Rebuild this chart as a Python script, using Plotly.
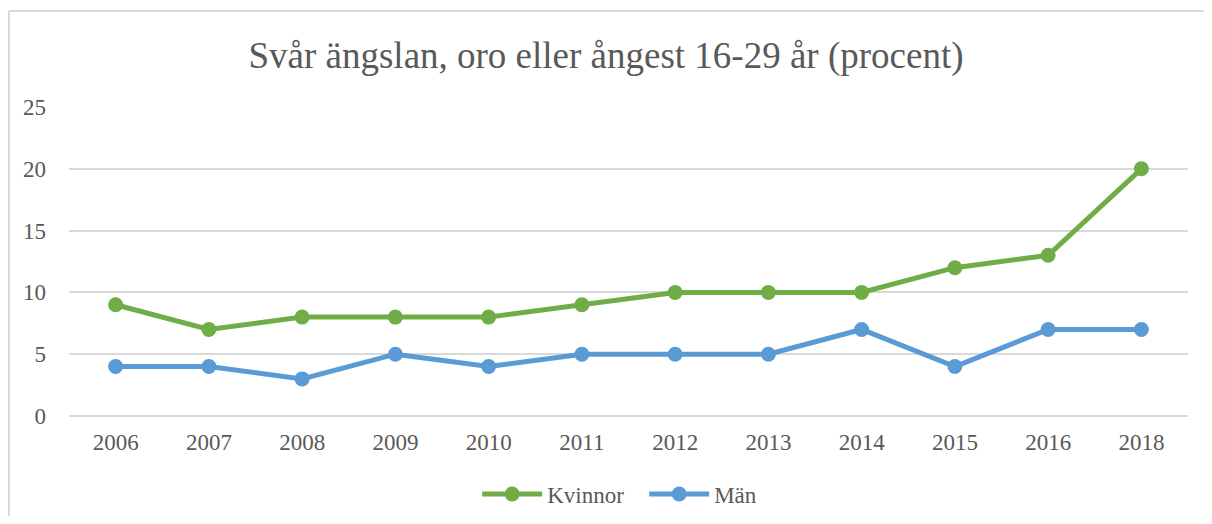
import plotly.graph_objects as go

years = ["2006", "2007", "2008", "2009", "2010", "2011", "2012", "2013", "2014", "2015", "2016", "2018"]
kvinnor = [9, 7, 8, 8, 8, 9, 10, 10, 10, 12, 13, 20]
man = [4, 4, 3, 5, 4, 5, 5, 5, 7, 4, 7, 7]

FONT = "Liberation Serif, Times New Roman, serif"
GREY = "#595959"
BORDER = "#D9D9D9"

fig = go.Figure()
for name, vals, col in [("Kvinnor", kvinnor, "#70AD47"), ("Män", man, "#5B9BD5")]:
    fig.add_trace(go.Scatter(
        x=years, y=vals, name=name, mode="lines+markers",
        line=dict(color=col, width=5),
        marker=dict(color=col, size=15),
    ))

# page body has an 8px margin, so the figure is shrunk to fit the window exactly
fig.update_layout(
    width=1196, height=508,
    margin=dict(l=61, r=16, t=99, b=100, autoexpand=False),
    paper_bgcolor="white", plot_bgcolor="white",
    font=dict(family=FONT, size=23, color=GREY),
    title=dict(text="Svår ängslan, oro eller ångest 16-29 år (procent)",
               x=0.5, xanchor="center", y=0.9075, yanchor="middle",
               font=dict(family=FONT, size=37, color=GREY)),
    legend=dict(orientation="h", x=0.514, xanchor="center",
                yref="container", y=0.0433, yanchor="middle",
                font=dict(size=23, color=GREY), itemwidth=60,
                entrywidth=92, entrywidthmode="pixels"),
    showlegend=True,
)
fig.update_xaxes(type="category", range=[-0.5, 11.5], showgrid=False, showline=False,
                 ticks="", ticklabelstandoff=10, automargin=False,
                 tickfont=dict(size=23, color=GREY))
fig.update_yaxes(range=[0, 25], dtick=5, showgrid=True, gridcolor=BORDER, gridwidth=1.5,
                 zeroline=True, zerolinecolor=BORDER, zerolinewidth=1.5, automargin=False,
                 ticks="", ticklabelstandoff=22, tickfont=dict(size=23, color=GREY))

# chart-area border: only the left and top edges fall inside the window
fig.add_shape(type="line", xref="paper", yref="paper",
              x0=-0.0536, x1=-0.0536, y0=-0.4, y1=1.311,
              line=dict(color=BORDER, width=2), layer="below")
fig.add_shape(type="line", xref="paper", yref="paper",
              x0=-0.0536, x1=1.1, y0=1.311, y1=1.311,
              line=dict(color=BORDER, width=2), layer="below")

fig.write_html("out.html")
